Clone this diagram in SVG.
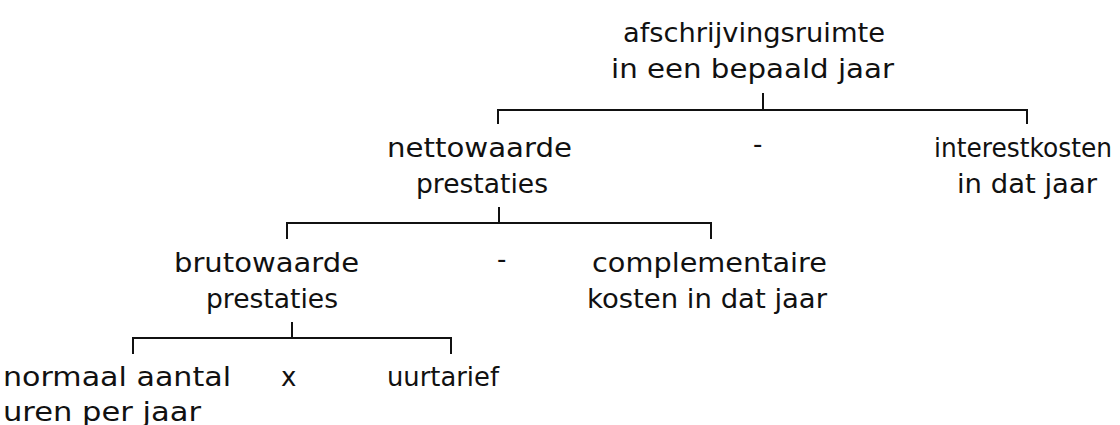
<svg xmlns="http://www.w3.org/2000/svg" width="1120" height="425" viewBox="0 0 1120 425">
<style>
text{font-family:"DejaVu Sans","Liberation Sans",sans-serif;font-size:26px;fill:#111}
.c{fill:none;stroke:#111;stroke-width:2}
</style>
<rect width="1120" height="425" fill="#fff"/>
<g id="connectors">
<path class="c" d="M763 93V110M498 124V110H1027V124"/>
<path class="c" d="M499 207V223M287 239V223H711V239"/>
<path class="c" d="M292 322V338M133 354V338H451V354"/>
</g>
<g id="n-afschrijvingsruimte"><text x="623" y="42" textLength="262" lengthAdjust="spacingAndGlyphs">afschrijvingsruimte</text><text x="611" y="78" textLength="283" lengthAdjust="spacingAndGlyphs">in een bepaald jaar</text></g>
<g id="n-nettowaarde"><text x="387" y="157" textLength="185" lengthAdjust="spacingAndGlyphs">nettowaarde</text><text x="416" y="193" textLength="132" lengthAdjust="spacingAndGlyphs">prestaties</text></g>
<g id="op-min1"><text x="753" y="153">-</text></g>
<g id="n-interestkosten"><text x="934" y="157" textLength="178" lengthAdjust="spacingAndGlyphs">interestkosten</text><text x="957" y="193" textLength="140" lengthAdjust="spacingAndGlyphs">in dat jaar</text></g>
<g id="n-brutowaarde"><text x="174" y="272" textLength="185" lengthAdjust="spacingAndGlyphs">brutowaarde</text><text x="206" y="308" textLength="132" lengthAdjust="spacingAndGlyphs">prestaties</text></g>
<g id="op-min2"><text x="497" y="268">-</text></g>
<g id="n-complementaire"><text x="592" y="272" textLength="235" lengthAdjust="spacingAndGlyphs">complementaire</text><text x="587" y="308" textLength="240" lengthAdjust="spacingAndGlyphs">kosten in dat jaar</text></g>
<g id="n-normaal"><text x="3" y="386" textLength="228" lengthAdjust="spacingAndGlyphs">normaal aantal</text><text x="3" y="421" textLength="198" lengthAdjust="spacingAndGlyphs">uren per jaar</text></g>
<g id="op-x"><text x="281" y="386">x</text></g>
<g id="n-uurtarief"><text x="387" y="386" textLength="112" lengthAdjust="spacingAndGlyphs">uurtarief</text></g>
</svg>
